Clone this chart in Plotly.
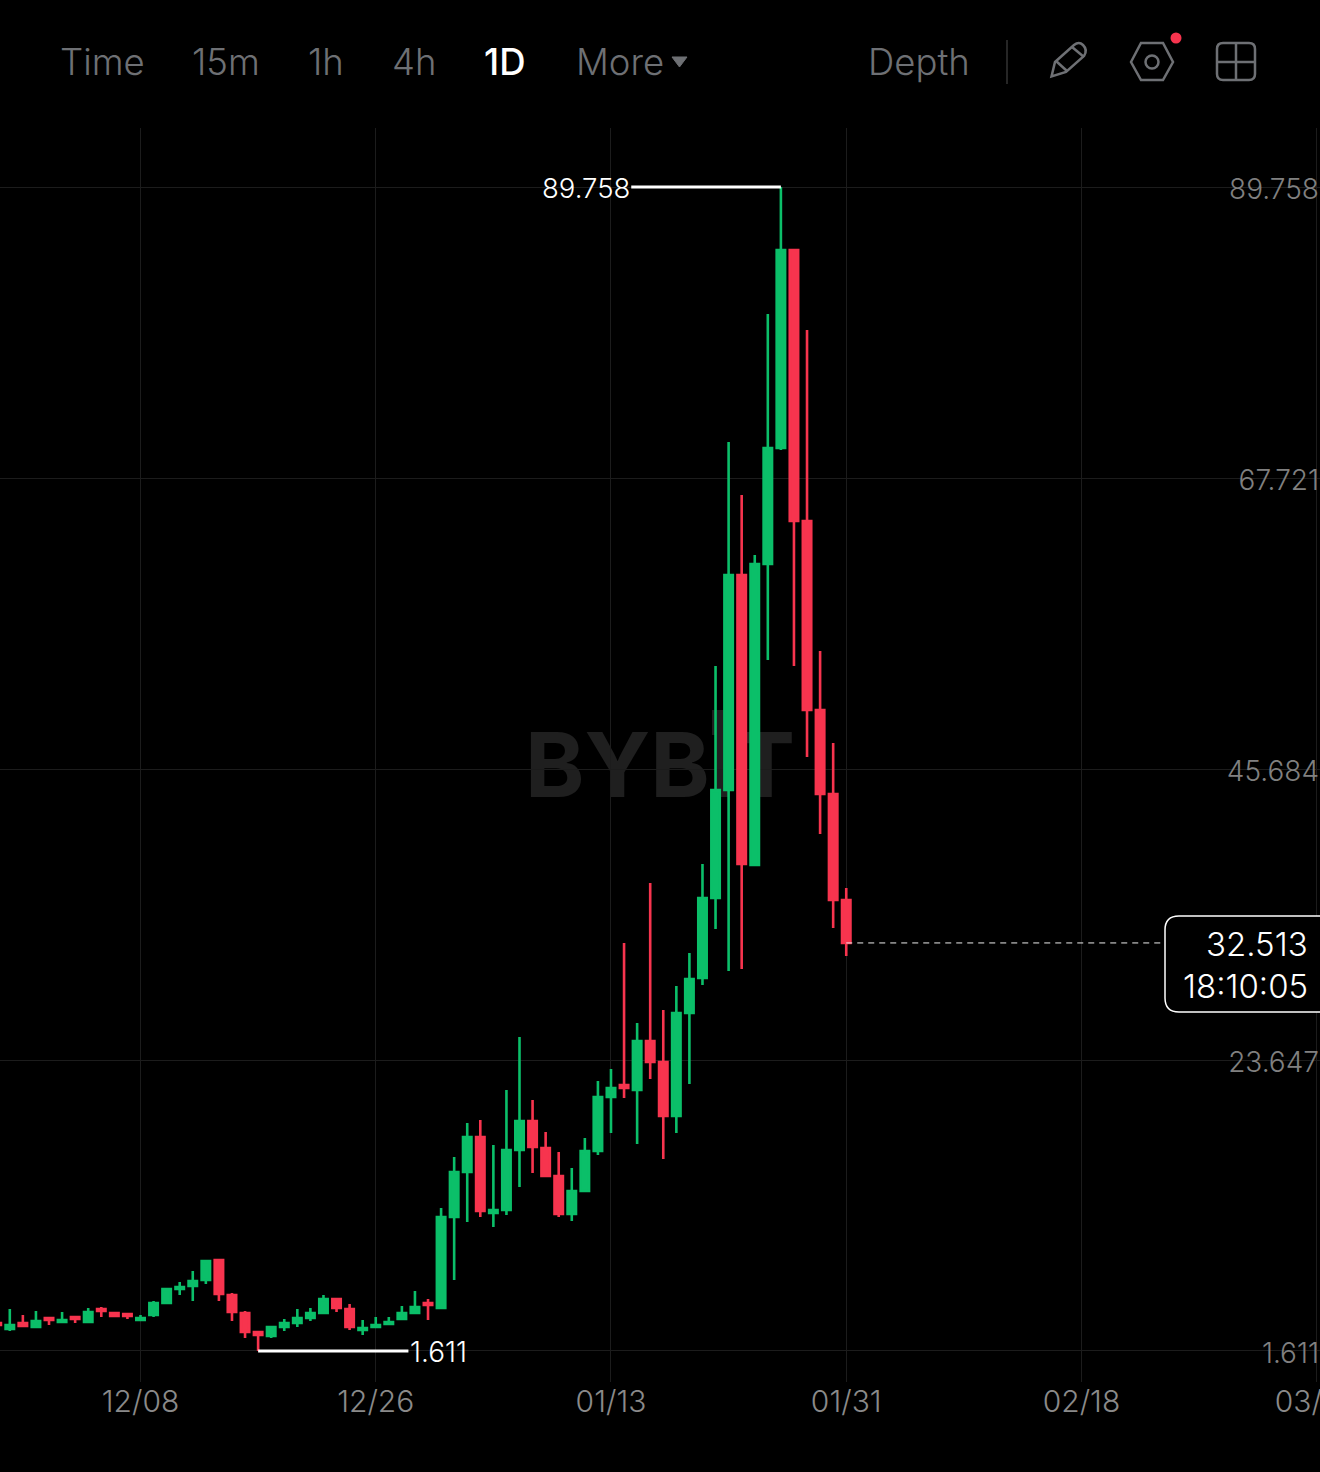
import pandas as pd
import plotly.graph_objects as go

W, H = 1320, 1472
BG = "#000000"
GREEN = "#0BBF69"
RED = "#F7344E"
GRID = "#1C1C1C"
MUTED = "#6E7074"
AXIS_TEXT = "#8A8A8A"

dates = pd.date_range("2024-11-27", "2025-01-31", freq="D")
opens = [3.731, 3.277, 3.731, 3.429, 4.110, 3.807, 4.186, 3.807, 4.792, 4.489, 4.413,
         3.959, 4.337, 5.246, 6.306, 6.533, 6.988, 8.502, 5.852, 4.489, 3.050,
         2.747, 3.429, 3.731, 4.110, 4.489, 5.549, 4.792, 3.201, 3.429, 3.656, 4.034, 4.489, 5.246, 4.867,
         11.759, 15.167, 17.817, 12.062, 12.289, 16.833, 19.029, 16.984, 14.864, 11.986, 13.728,
         16.757, 20.846, 21.755, 21.377, 25.087, 23.497, 19.408, 27.208, 29.858, 35.917,
         44.096, 60.377, 38.416, 61.211, 69.995, 84.990, 64.467, 50.154, 43.793, 35.765]
highs = [3.731, 4.792, 4.337, 4.640, 4.110, 4.564, 4.186, 4.867, 4.943, 4.489, 4.413,
         4.337, 5.398, 6.382, 6.836, 7.669, 8.427, 8.578, 6.003, 4.640, 3.126,
         3.504, 4.034, 4.792, 4.867, 5.852, 5.625, 5.170, 3.959, 4.186, 4.186, 5.019, 6.155, 5.549, 12.440,
         16.303, 18.877, 19.105, 17.211, 21.377, 25.390, 20.619, 18.196, 16.681, 15.470, 17.741,
         22.058, 22.967, 32.509, 26.450, 37.053, 27.435, 29.252, 31.752, 38.492, 53.486,
         70.450, 66.436, 61.892, 80.143, 89.758, 85.065, 78.931, 54.622, 47.655, 36.674]
lows = [3.580, 3.126, 3.504, 3.353, 3.580, 3.731, 3.731, 3.731, 4.186, 4.186, 4.034,
        3.959, 4.186, 5.170, 5.852, 5.398, 6.685, 5.398, 3.883, 2.595, 1.611,
        2.595, 3.126, 3.429, 3.883, 4.489, 4.564, 3.201, 2.823, 3.353, 3.580, 4.034, 4.413, 3.959, 4.867,
        6.988, 11.380, 11.759, 11.002, 11.910, 14.031, 15.091, 14.788, 11.759, 11.456, 13.652,
        16.454, 18.120, 20.771, 17.287, 22.210, 16.151, 18.120, 21.831, 29.328, 33.569,
        30.388, 30.540, 38.340, 53.940, 69.844, 53.486, 46.595, 40.763, 33.645, 31.524]
closes = [3.580, 3.580, 3.504, 3.883, 3.959, 3.959, 4.034, 4.564, 4.640, 4.262, 4.262,
          4.110, 5.246, 6.306, 6.458, 6.912, 8.427, 5.928, 4.564, 3.050, 2.823,
          3.429, 3.731, 4.110, 4.489, 5.549, 4.867, 3.429, 3.353, 3.580, 3.807, 4.489, 4.943, 5.095, 11.759,
          15.167, 17.817, 12.213, 12.289, 16.833, 19.029, 17.060, 14.864, 11.986, 13.728, 16.757,
          20.846, 21.528, 21.528, 25.087, 23.497, 19.408, 27.208, 29.783, 35.917, 44.096,
          60.377, 38.492, 61.211, 69.995, 84.990, 64.467, 50.154, 43.793, 35.765, 32.513]

price_ticks = [89.758, 67.721, 45.684, 23.647, 1.611]
date_ticks = ["2024-12-08", "2024-12-26", "2025-01-13", "2025-01-31", "2025-02-18", "2025-03-08"]
last_price = "32.513"
countdown = "18:10:05"
intervals = [("Time", 58), ("15m", 190), ("1h", 306), ("4h", 390), ("1D", 482), ("More", 574), ("Depth", 866)]


def px(x):
    return x / W


def py(y):
    return 1 - y / H


def paper_path(points):
    # rough icon outlines, given in screen pixels
    out = []
    for cmd, *xy in points:
        coords = " ".join(f"{px(xy[i]):.5f},{py(xy[i + 1]):.5f}" for i in range(0, len(xy), 2))
        out.append(f"{cmd} {coords}")
    return " ".join(out)


def icon(points, color=MUTED, fill=None, width=2.5):
    return dict(type="path", xref="paper", yref="paper", path=paper_path(points),
                line=dict(color=color, width=width), fillcolor=fill, layer="above")


def rounded_rect(x0, y0, x1, y1, r):
    return [("M", x0 + r, y0), ("L", x1 - r, y0), ("Q", x1, y0, x1, y0 + r), ("L", x1, y1 - r),
            ("Q", x1, y1, x1 - r, y1), ("L", x0 + r, y1), ("Q", x0, y1, x0, y1 - r),
            ("L", x0, y0 + r), ("Q", x0, y0, x0 + r, y0), ("Z",)]


def circle(cx, cy, r, color, fill=None, width=2.5):
    return dict(type="circle", xref="paper", yref="paper", x0=px(cx - r), x1=px(cx + r), y0=py(cy + r), y1=py(cy - r),
                line=dict(color=color, width=width), fillcolor=fill, layer="above")


fig = go.Figure(
    go.Candlestick(
        x=dates, open=opens, high=highs, low=lows, close=closes,
        increasing=dict(line=dict(color=GREEN, width=2.6), fillcolor=GREEN),
        decreasing=dict(line=dict(color=RED, width=2.6), fillcolor=RED),
        whiskerwidth=0,
    )
)

hi = max(highs)
hi_date = dates[highs.index(hi)]
lo = min(lows)
lo_date = dates[lows.index(lo)]
hi_end = hi_date - pd.Timedelta(days=11.45)
lo_end = lo_date + pd.Timedelta(days=11.5)
last_end = dates[-1] + pd.Timedelta(days=25)

shapes = [
    # watermark sits under the candles
    dict(type="rect", xref="paper", yref="paper", x0=px(500), x1=px(820), y0=py(804), y1=py(719), layer="below",
         line=dict(width=0), fillcolor="rgba(0,0,0,0)",
         label=dict(text="<b>BYBIT</b>", textposition="middle center",
                    font=dict(family="Inter", size=90, color="#1F1F1F"))),
    dict(type="rect", xref="paper", yref="paper", x0=px(712), x1=px(727), y0=py(735), y1=py(710), layer="below",
         line=dict(width=0), fillcolor="#1F1F1F"),
    dict(type="line", x0=hi_date, x1=hi_end, y0=hi, y1=hi, line=dict(color="#FFFFFF", width=3)),
    dict(type="line", x0=lo_date, x1=lo_end, y0=lo, y1=lo, line=dict(color="#FFFFFF", width=3)),
    dict(type="line", x0=dates[-1], x1=last_end, y0=closes[-1], y1=closes[-1],
         line=dict(color="#EDEDED", width=1, dash="6px,5px")),
    dict(type="path", xref="paper", yref="paper", path=paper_path(rounded_rect(1165, 916, 1340, 1012, 14)),
         line=dict(color="#FFFFFF", width=1.5), fillcolor=BG, layer="above"),
    # toolbar
    dict(type="line", xref="paper", yref="paper", x0=px(1007), x1=px(1007), y0=py(40), y1=py(84),
         line=dict(color="#333333", width=1.5)),
    icon([("M", 672, 57), ("L", 687, 57), ("L", 679.5, 67), ("Z",)], color=MUTED, fill=MUTED, width=1),
    icon([("M", 1051.5, 76.5), ("L", 1055, 62), ("L", 1074, 45), ("Q", 1079, 41, 1083, 45), ("Q", 1088, 50, 1084, 56),
          ("L", 1066, 72), ("Z",)]),
    icon([("M", 1056, 61), ("L", 1067, 71)]),
    icon([("M", 1072, 47), ("L", 1084, 57)]),
    icon([("M", 1131, 62), ("L", 1141, 43), ("L", 1163, 43), ("L", 1173, 62), ("L", 1163, 80), ("L", 1141, 80), ("Z",)]),
    circle(1152, 62, 6.5, MUTED),
    circle(1176, 38, 5.5, RED, fill=RED, width=0),
    icon(rounded_rect(1217, 43, 1255, 80, 6)),
    icon([("M", 1236, 43), ("L", 1236, 80)]),
    icon([("M", 1217, 62), ("L", 1255, 62)]),
]

annotations = []
for label, x in intervals:
    active = label == "1D"
    annotations.append(dict(
        xref="paper", yref="paper", x=px(x), y=py(62), xanchor="left", yanchor="middle", showarrow=False,
        text=label, font=dict(family="Inter", size=36.5, color="#FFFFFF" if active else MUTED,
                              weight=500 if active else 300),
    ))
annotations += [
    dict(x=hi_end, y=hi, xanchor="right", yanchor="middle", xshift=1, yshift=-1, showarrow=False, text=f"{hi:.3f}",
         font=dict(family="Inter", size=27.5, color="#FFFFFF", weight=300)),
    dict(x=lo_end, y=lo, xanchor="left", yanchor="middle", xshift=0, yshift=-1, showarrow=False, text=f"{lo:.3f}",
         font=dict(family="Inter", size=28, color="#FFFFFF", weight=300)),
    dict(xref="paper", yref="paper", x=px(1310), y=py(944), xanchor="right", yanchor="middle", showarrow=False,
         text=last_price, font=dict(family="Inter", size=33, color="#FFFFFF", weight=300)),
    dict(xref="paper", yref="paper", x=px(1310), y=py(986), xanchor="right", yanchor="middle", showarrow=False,
         text=countdown, font=dict(family="Inter", size=33, color="#FFFFFF", weight=300)),
]

fig.update_layout(
    width=W, height=H,
    margin=dict(l=0, r=0, t=0, b=0, autoexpand=False),
    paper_bgcolor=BG, plot_bgcolor=BG,
    showlegend=False,
    boxgap=0.08,
    shapes=shapes,
    annotations=annotations,
    font=dict(family="Inter"),
)
fig.update_xaxes(
    domain=[0, 1],
    automargin=False,
    type="date",
    range=[pd.Timestamp("2024-12-08") - pd.Timedelta(days=10.75), pd.Timestamp("2024-12-08") + pd.Timedelta(days=90.25)],
    rangeslider_visible=False,
    tickvals=date_ticks,
    tickformat="%m/%d",
    ticks="",
    ticklabeloverflow="allow",
    ticklabelstandoff=-1,
    showgrid=True, gridcolor=GRID, gridwidth=1,
    showline=False, zeroline=False,
    tickfont=dict(family="Inter", size=30, color=AXIS_TEXT, weight=300),
)
fig.update_yaxes(
    domain=[0.06114, 0.91304],
    automargin=False,
    range=[-0.737, 94.229],
    side="right",
    tickvals=price_ticks,
    ticktext=[f"{v:.3f}" for v in price_ticks],
    ticklabelposition="inside",
    ticklabeloverflow="allow",
    ticklabelshift=2,
    ticklabelstandoff=-2,
    ticks="",
    showgrid=True, gridcolor=GRID, gridwidth=1,
    showline=False, zeroline=False,
    tickfont=dict(family="Inter", size=28, color="#808080", weight=300),
)

fig.write_html("out.html", config=dict(displayModeBar=False),
               post_script="document.body.style.margin='0';document.body.style.overflow='hidden';")
